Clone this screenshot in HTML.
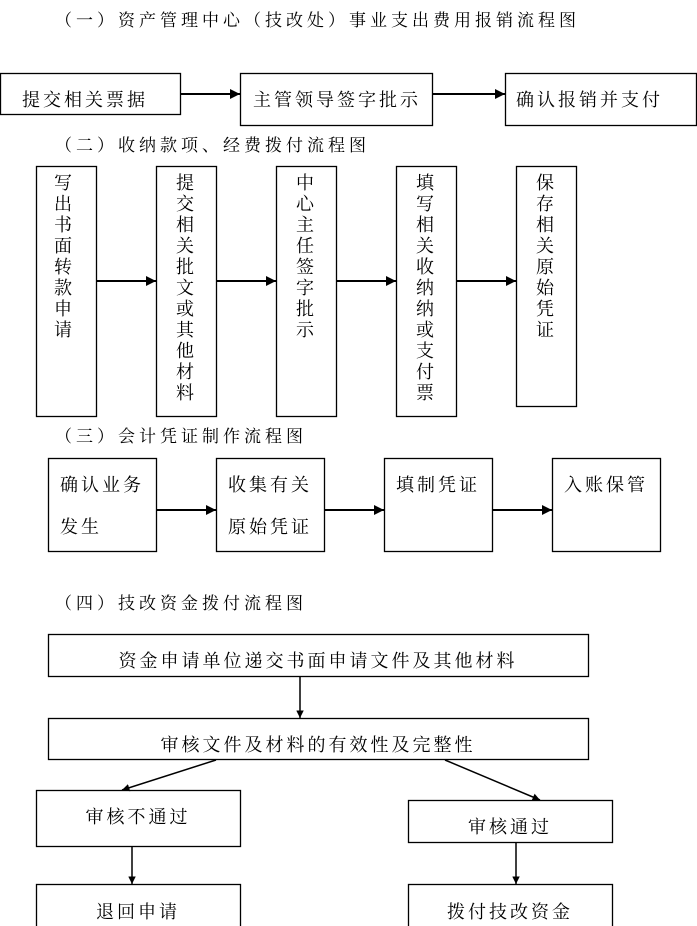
<!DOCTYPE html>
<html><head><meta charset="utf-8"><style>
html,body{margin:0;padding:0;background:#fff;}
svg{display:block;}
text{font-family:"Liberation Serif","Noto Serif CJK SC",serif;fill:#000;}
</style></head><body>
<svg width="697" height="926" viewBox="0 0 697 926" xmlns="http://www.w3.org/2000/svg">
<defs>
<marker id="a" viewBox="0 0 10 10" refX="10" refY="5" markerWidth="5" markerHeight="5" orient="auto"><path d="M0,0 L10,5 L0,10 z" fill="#000"/></marker>
</defs>
<g font-size="17">
<text x="55" y="26" letter-spacing="4">（一）资产管理中心（技改处）事业支出费用报销流程图</text>
<text x="55" y="151" letter-spacing="4">（二）收纳款项、经费拨付流程图</text>
<text x="55" y="442" letter-spacing="4">（三）会计凭证制作流程图</text>
<text x="55" y="609" letter-spacing="4">（四）技改资金拨付流程图</text>
</g>
<g fill="none" stroke="#000" stroke-width="1.3">
<rect x="0.5" y="73.5" width="180" height="41"/>
<rect x="240.5" y="73.5" width="192" height="52"/>
<rect x="505.5" y="73.5" width="191" height="52"/>
<rect x="36.5" y="166.5" width="60" height="250"/>
<rect x="156.5" y="166.5" width="60" height="250"/>
<rect x="276.5" y="166.5" width="60" height="250"/>
<rect x="396.5" y="166.5" width="60" height="250"/>
<rect x="516.5" y="166.5" width="60" height="240"/>
<rect x="48.5" y="458.5" width="108" height="93"/>
<rect x="216.5" y="458.5" width="108" height="93"/>
<rect x="384.5" y="458.5" width="108" height="93"/>
<rect x="552.5" y="458.5" width="108" height="93"/>
<rect x="48.5" y="634.5" width="540" height="42"/>
<rect x="48.5" y="718.5" width="540" height="41"/>
<rect x="36.5" y="790.5" width="204" height="56"/>
<rect x="408.5" y="800.5" width="204" height="42"/>
<rect x="36.5" y="884.5" width="204" height="50"/>
<rect x="408.5" y="884.5" width="204" height="50"/>
</g>
<g stroke="#000" stroke-width="2" marker-end="url(#a)">
<line x1="181" y1="94" x2="240" y2="94"/>
<line x1="433" y1="94" x2="505" y2="94"/>
<line x1="97" y1="281" x2="156" y2="281"/>
<line x1="217" y1="281" x2="276" y2="281"/>
<line x1="337" y1="281" x2="396" y2="281"/>
<line x1="457" y1="281" x2="516" y2="281"/>
<line x1="157" y1="510" x2="216" y2="510"/>
<line x1="325" y1="510" x2="384" y2="510"/>
<line x1="493" y1="510" x2="552" y2="510"/>
</g>
<g stroke="#000" stroke-width="1.5" marker-end="url(#a)">
<line x1="300" y1="677" x2="300" y2="718"/>
<line x1="216" y1="760" x2="122" y2="790"/>
<line x1="445" y1="760" x2="540" y2="800"/>
<line x1="132" y1="847" x2="132" y2="884"/>
<line x1="516" y1="843" x2="516" y2="884"/>
</g>
<g font-size="18" letter-spacing="3">
<text x="22" y="106">提交相关票据</text>
<text x="253" y="106">主管领导签字批示</text>
<text x="516" y="106">确认报销并支付</text>
<text x="60" y="491">确认业务</text>
<text x="60" y="533">发生</text>
<text x="228" y="491">收集有关</text>
<text x="228" y="533">原始凭证</text>
<text x="396" y="491">填制凭证</text>
<text x="564" y="491">入账保管</text>
<text x="318" y="667" text-anchor="middle">资金申请单位递交书面申请文件及其他材料</text>
<text x="318" y="751" text-anchor="middle">审核文件及材料的有效性及完整性</text>
<text x="138" y="823" text-anchor="middle">审核不通过</text>
<text x="510" y="833" text-anchor="middle">审核通过</text>
<text x="138" y="918" text-anchor="middle">退回申请</text>
<text x="510" y="918" text-anchor="middle">拨付技改资金</text>
</g>
<g font-size="18" text-anchor="middle">
<text x="63" y="189">写</text><text x="63" y="210">出</text><text x="63" y="231">书</text><text x="63" y="252">面</text><text x="63" y="273">转</text><text x="63" y="294">款</text><text x="63" y="315">申</text><text x="63" y="336">请</text>
<text x="185" y="189">提</text><text x="185" y="210">交</text><text x="185" y="231">相</text><text x="185" y="252">关</text><text x="185" y="273">批</text><text x="185" y="294">文</text><text x="185" y="315">或</text><text x="185" y="336">其</text><text x="185" y="357">他</text><text x="185" y="378">材</text><text x="185" y="399">料</text>
<text x="305" y="189">中</text><text x="305" y="210">心</text><text x="305" y="231">主</text><text x="305" y="252">任</text><text x="305" y="273">签</text><text x="305" y="294">字</text><text x="305" y="315">批</text><text x="305" y="336">示</text>
<text x="425" y="189">填</text><text x="425" y="210">写</text><text x="425" y="231">相</text><text x="425" y="252">关</text><text x="425" y="273">收</text><text x="425" y="294">纳</text><text x="425" y="315">纳</text><text x="425" y="336">或</text><text x="425" y="357">支</text><text x="425" y="378">付</text><text x="425" y="399">票</text>
<text x="545" y="189">保</text><text x="545" y="210">存</text><text x="545" y="231">相</text><text x="545" y="252">关</text><text x="545" y="273">原</text><text x="545" y="294">始</text><text x="545" y="315">凭</text><text x="545" y="336">证</text>
</g>
</svg>
</body></html>
